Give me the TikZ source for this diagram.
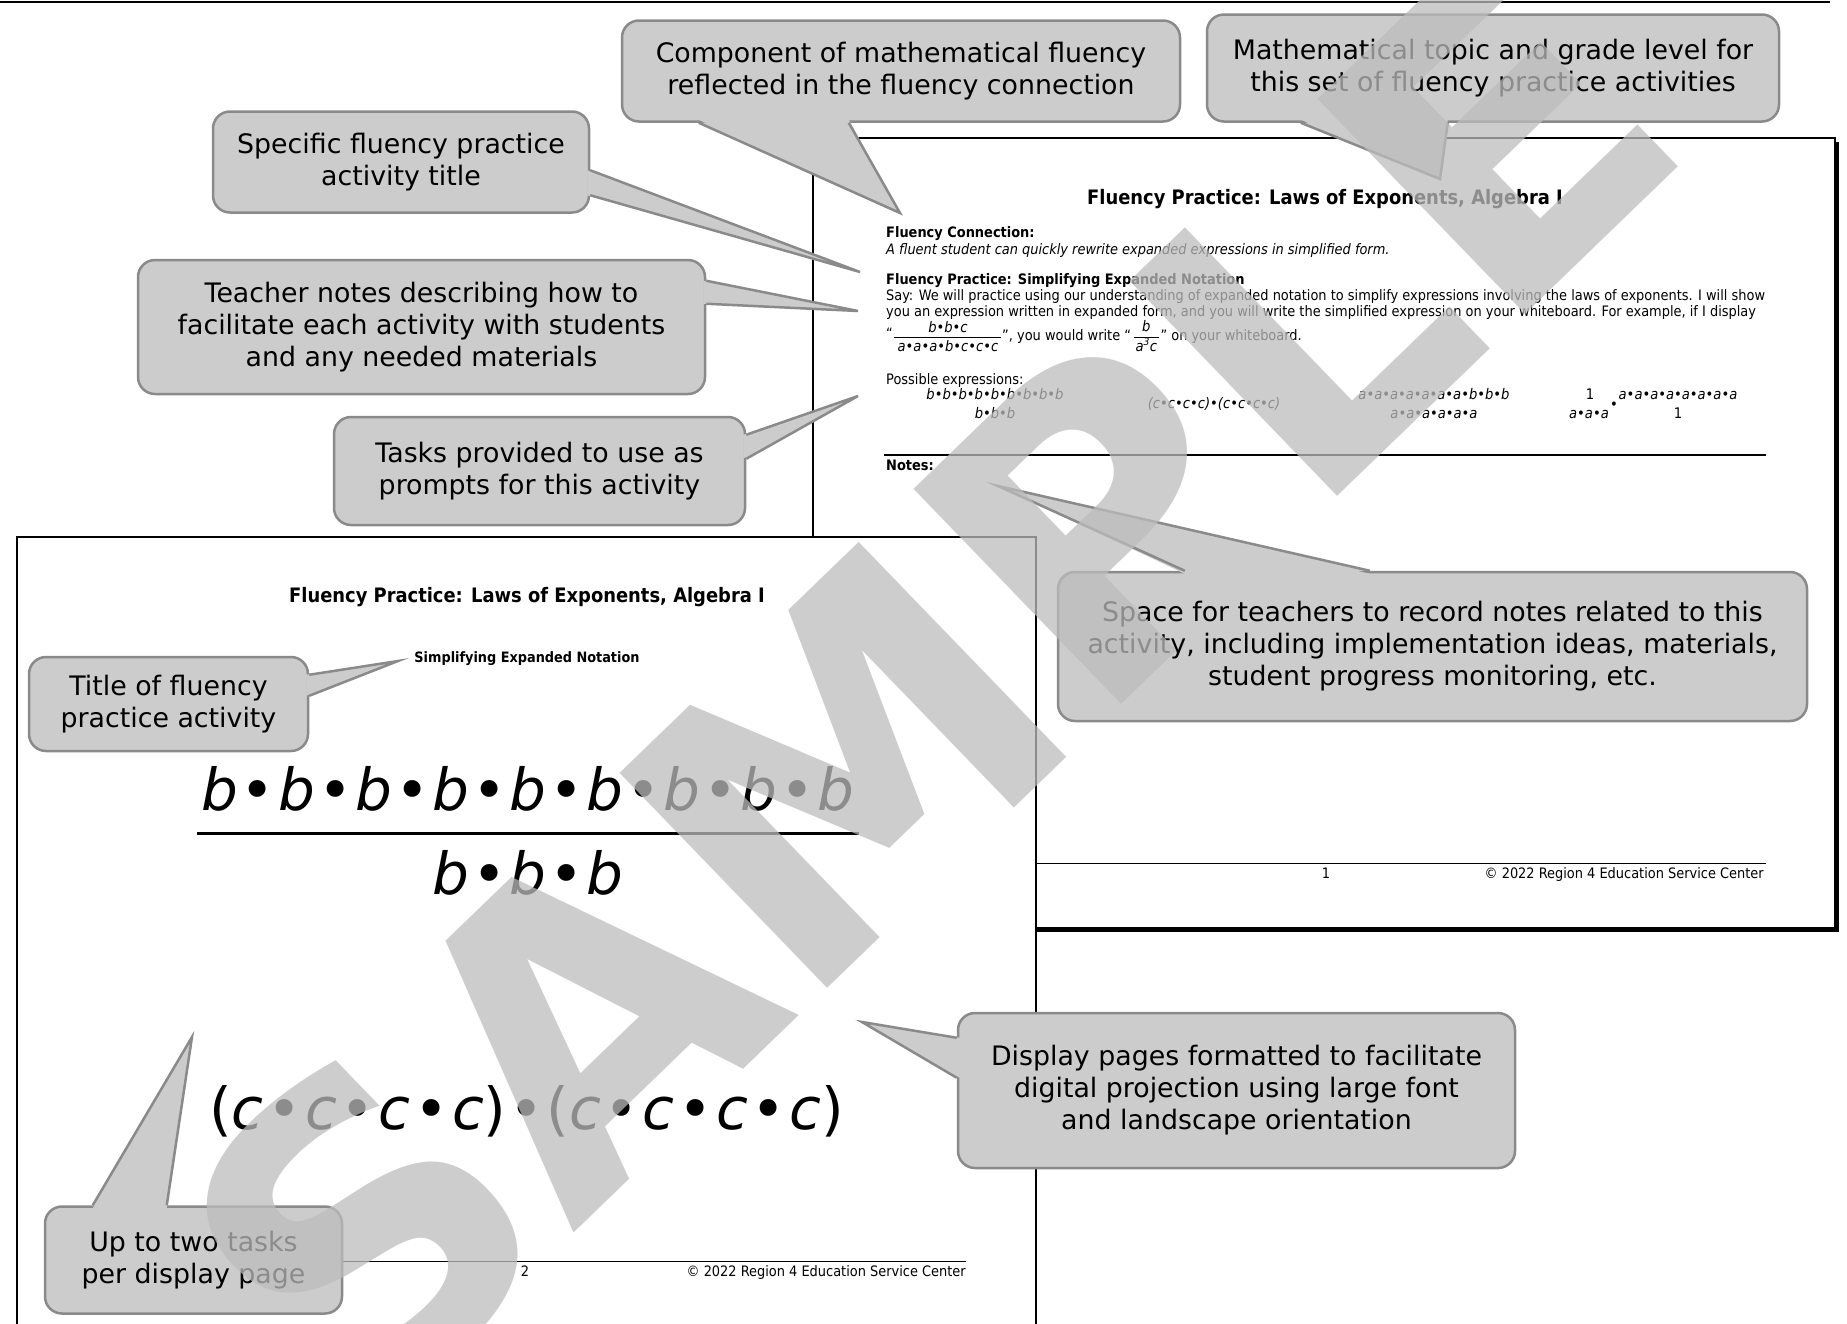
\documentclass[tikz,border=0pt]{standalone}
\usepackage{fontspec}
\setmainfont{DejaVu Sans}
\newfontfamily\cf{DejaVu Sans}
\newfontfamily\pf{DejaVu Sans Condensed}
\usetikzlibrary{calc}
\definecolor{cfill}{RGB}{204,204,204}
\definecolor{cline}{RGB}{138,138,138}
\definecolor{wm}{RGB}{188,188,188}
\tikzset{
  callout/.style={draw=cline, fill=cfill, line width=2.5pt, rounded corners=17pt,
    align=center, inner sep=0pt, text=black, font=\cf\fontsize{26.8}{32}\selectfont},
  ptrline/.style={draw=cline, line width=2.5pt},
  ptxt/.style={inner sep=0pt, font=\pf\fontsize{14.4}{16}\selectfont},
  pexp/.style={inner sep=0pt, font=\pf\itshape\fontsize{14.6}{16}\selectfont},
  ptitle/.style={inner sep=0pt, font=\pf\bfseries\fontsize{19.9}{22}\selectfont},
  bigmath/.style={inner sep=0pt, font=\cf\itshape\fontsize{58}{60}\selectfont},
  pageedge/.style={draw=black, line width=2.5pt, fill=white},
}
\newcommand\calloutptr[4]{%
  \fill[cfill] (#1) -- (#2) -- (#3) -- cycle;
  \fill[cfill] ($(#1)+(#4)$) -- (#2) -- ($(#3)+(#4)$) -- cycle;
  \draw[ptrline] (#1) -- (#2) -- (#3);
}
\begin{document}
\begin{tikzpicture}[x=1pt,y=-1pt]
\useasboundingbox (0,0) rectangle (1847,1323);
% top rule
\draw[line width=2.5pt] (0,2) -- (1830,2);

% ---------- upper page ----------
\fill[black] (817,142) rectangle (1839,932);
\draw[pageedge] (813,138) rectangle (1835,928);
\node[ptitle] (p1title) at (1325,199) {Fluency Practice: Laws of Exponents, Algebra I};
\node[ptxt, anchor=base west] (p1fc) at (886,237) {\bfseries Fluency Connection:};
\node[ptxt, anchor=base west] (p1fl) at (886,254) {\itshape A fluent student can quickly rewrite expanded expressions in simplified form.};
\node[ptxt, anchor=base west] (p1fp) at (886,284) {\bfseries Fluency Practice: Simplifying Expanded Notation};
\node[ptxt, anchor=base west] (p1s1) at (886,300) {Say: We will practice using our understanding of expanded notation to simplify expressions involving the laws of exponents. I will show};
\node[ptxt, anchor=base west] (p1s2) at (886,316) {you an expression written in expanded form, and you will write the simplified expression on your whiteboard. For example, if I display};
\node[ptxt, anchor=base west] (q1) at (886,338) {“};
\node[pexp, anchor=base] (f1n) at (948,332) {b•b•c};
\draw[line width=0.8pt] (894,337) -- (1001,337);
\node[pexp, anchor=base] (f1d) at (948,351) {a•a•a•b•c•c•c};
\node[ptxt, anchor=base west] (q2) at (1002,340) {”, you would write “};
\node[pexp, anchor=base] (f2n) at ($(q2.base east)+(15,-9)$) {b};
\draw[line width=0.8pt] ($(q2.base east)+(3,-3)$) -- ($(q2.base east)+(28,-3)$);
\node[pexp, anchor=base] (f2d) at ($(q2.base east)+(15,11)$) {a\textsuperscript{3}c};
\node[ptxt, anchor=base west] (q3) at ($(q2.base east)+(29,0)$) {” on your whiteboard.};
\node[ptxt, anchor=base west] (p1pe) at (886,384) {Possible expressions:};
\node[pexp, anchor=base] (e1n) at (995,399) {b•b•b•b•b•b•b•b•b};
\node[pexp, anchor=base] (e1d) at (995,418) {b•b•b};
\node[pexp, anchor=base] (e2) at (1214,408) {(c•c•c•c)•(c•c•c•c)};
\node[pexp, anchor=base] (e3n) at (1434,399) {a•a•a•a•a•a•a•b•b•b};
\node[pexp, anchor=base] (e3d) at (1434,418) {a•a•a•a•a•a};
\node[pexp, anchor=base] (e4n) at (1590,399) {\upshape 1};
\node[pexp, anchor=base] (e4d) at (1589,418) {a•a•a};
\node[pexp, anchor=base] (e4m) at (1614,409) {•};
\node[pexp, anchor=base] (e5n) at (1678,399) {a•a•a•a•a•a•a•a};
\node[pexp, anchor=base] (e5d) at (1678,418) {\upshape 1};
\draw[line width=2.5pt] (884,455) -- (1766,455);
\node[ptxt, anchor=base west] (p1notes) at (886,470) {\bfseries Notes:};
\draw[line width=0.8pt] (1000,863) -- (1766,863);
\node[ptxt, anchor=base] (p1num) at (1326,878) {1};
\node[ptxt, anchor=base east] (p1copy) at (1764,878) {© 2022 Region 4 Education Service Center};

% ---------- callouts on upper page ----------
\node[callout, minimum width=558pt, minimum height=101pt] (comp) at (901,71)
  {Component of mathematical fluency\\reflected in the fluency connection};
\coordinate (compTip) at (900,213);
\coordinate (compB1) at ($(comp.south west)+(78,0)$);
\coordinate (compB2) at ($(comp.south west)+(228,0)$);
\calloutptr{compB1}{compTip}{compB2}{0,-3}

\node[callout, minimum width=572pt, minimum height=107pt] (topic) at (1493,68)
  {Mathematical topic and grade level for\\this set of fluency practice activities};
\coordinate (topicTip) at (1440,179);
\coordinate (topicB1) at ($(topic.south west)+(95,0)$);
\coordinate (topicB2) at ($(topic.south west)+(242,0)$);
\calloutptr{topicB1}{topicTip}{topicB2}{0,-3}

\node[callout, minimum width=376pt, minimum height=101pt] (spec) at (401,162)
  {Specific fluency practice\\activity title};
\coordinate (specTip) at (860,272);
\coordinate (specB1) at ($(spec.north east)+(0,60)$);
\coordinate (specB2) at ($(spec.north east)+(0,85)$);
\calloutptr{specB1}{specTip}{specB2}{-3,0}

\node[callout, minimum width=567pt, minimum height=134pt] (teach) at (421.5,327)
  {Teacher notes describing how to\\facilitate each activity with students\\and any needed materials};
\coordinate (teachTip) at (858,311);
\coordinate (teachB1) at ($(teach.north east)+(0,22)$);
\coordinate (teachB2) at ($(teach.north east)+(0,45)$);
\calloutptr{teachB1}{teachTip}{teachB2}{-3,0}

\node[callout, minimum width=411pt, minimum height=108pt] (tasks) at (539.5,471)
  {Tasks provided to use as\\prompts for this activity};
\coordinate (tasksTip) at (858,396);
\coordinate (tasksB1) at ($(tasks.north east)+(0,19)$);
\coordinate (tasksB2) at ($(tasks.north east)+(0,43)$);
\calloutptr{tasksB1}{tasksTip}{tasksB2}{-3,0}

\node[callout, minimum width=749pt, minimum height=149pt] (space) at (1432.5,646.5)
  {Space for teachers to record notes related to this\\activity, including implementation ideas, materials,\\student progress monitoring, etc.};
\coordinate (spaceTip) at (998,486);
\coordinate (spaceB1) at ($(space.north west)+(128,0)$);
\coordinate (spaceB2) at ($(space.north west)+(313,0)$);
\calloutptr{spaceB1}{spaceTip}{spaceB2}{0,3}

% ---------- lower page ----------
\draw[pageedge, line width=2pt] (17,537) rectangle (1036,1345);
\node[ptitle] (p2title) at (527,597) {Fluency Practice: Laws of Exponents, Algebra I};
\node[inner sep=0pt, font=\pf\bfseries\fontsize{14.3}{16}\selectfont] (p2sub) at (527,659) {Simplifying Expanded Notation};
\node[bigmath, anchor=base west] (bnum) at (201,810)
  {\hbox to 653pt{b\hfil•\hfil b\hfil•\hfil b\hfil•\hfil b\hfil•\hfil b\hfil•\hfil b\hfil•\hfil b\hfil•\hfil b\hfil•\hfil b}};
\draw[line width=3pt] (197,833) -- (859,833);
\node[bigmath, anchor=base west] (bden) at (432,894)
  {\hbox to 191pt{b\hfil•\hfil b\hfil•\hfil b}};
\node[bigmath, anchor=base west] (cexp) at (209,1129)
  {\hbox to 635pt{\upshape(\itshape c\hfil•\hfil c\hfil•\hfil c\hfil•\hfil c\upshape)\hspace{3pt}•\hspace{3pt}(\itshape c\hfil•\hfil c\hfil•\hfil c\hfil•\hfil c\upshape)}};
\draw[line width=0.8pt] (300,1261) -- (966,1261);
\node[ptxt, anchor=base] (p2num) at (525,1276) {2};
\node[ptxt, anchor=base east] (p2copy) at (966,1276) {© 2022 Region 4 Education Service Center};

% ---------- callouts on lower page ----------
\node[callout, minimum width=279pt, minimum height=94pt] (ttl) at (168.5,704)
  {Title of fluency\\practice activity};
\coordinate (ttlTip) at (398,661);
\coordinate (ttlB1) at ($(ttl.north east)+(0,19)$);
\coordinate (ttlB2) at ($(ttl.north east)+(0,40)$);
\calloutptr{ttlB1}{ttlTip}{ttlB2}{-3,0}

\node[callout, minimum width=297pt, minimum height=107pt] (upto) at (193.5,1260)
  {Up to two tasks\\per display page};
\coordinate (uptoTip) at (192,1037);
\coordinate (uptoB1) at ($(upto.north west)+(49,0)$);
\coordinate (uptoB2) at ($(upto.north west)+(123,0)$);
\calloutptr{uptoB1}{uptoTip}{uptoB2}{0,3}

\node[callout, minimum width=557pt, minimum height=155pt] (disp) at (1236.5,1090.5)
  {Display pages formatted to facilitate\\digital projection using large font\\and landscape orientation};
\coordinate (dispTip) at (862,1022);
\coordinate (dispB1) at ($(disp.north west)+(0,26)$);
\coordinate (dispB2) at ($(disp.north west)+(0,66)$);
\calloutptr{dispB1}{dispTip}{dispB2}{3,0}

% ---------- watermark ----------
\node[rotate=44, anchor=base west, inner sep=0pt, text=wm, text opacity=0.745,
  font=\cf\bfseries\fontsize{410}{410}\selectfont] (wmark) at (360,1440) {SAMPLE};
\end{tikzpicture}
\end{document}
